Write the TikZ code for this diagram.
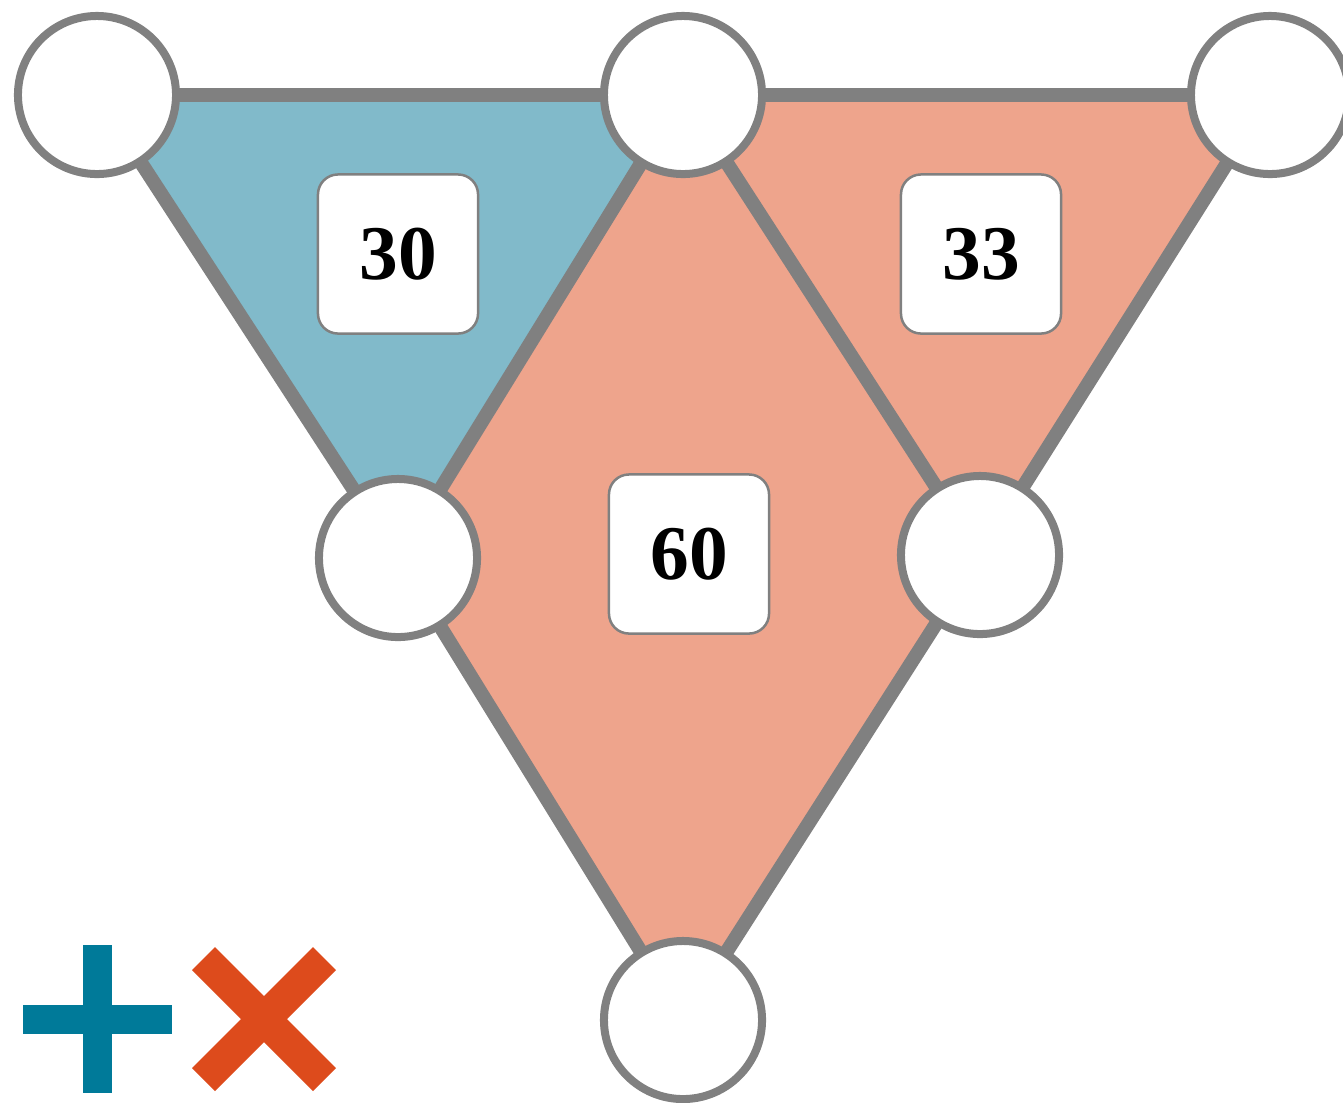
\documentclass[tikz,border=0pt]{standalone}
\usepackage{fontspec}
\setmainfont{Liberation Serif}
\usetikzlibrary{backgrounds}
\definecolor{edgegray}{RGB}{128,128,128}
\definecolor{faceblue}{RGB}{129,186,202}
\definecolor{facesalmon}{RGB}{238,164,140}
\definecolor{plusblue}{RGB}{0,122,153}
\definecolor{timesred}{RGB}{221,75,28}

\begin{document}
\begin{tikzpicture}[x=0.01cm, y=-0.01cm,
		vert/.style={circle, draw=edgegray, fill=white, line width=0.08cm, minimum size=1.58cm, inner sep=0pt},
		facebox/.style={draw=edgegray, fill=white, rounded corners=0.2cm, line width=0.025cm, minimum width=1.6cm, minimum height=1.59cm, inner sep=0pt, font=\bfseries\fontsize{22}{26}\selectfont},
		link/.style={draw=edgegray, line width=0.14cm}]
			%%%%% START %%%%%
			
			\useasboundingbox (0, 0) rectangle (1343, 1102);
			
			\node[vert] (v1) at (97, 95) {};
			\node[vert] (v2) at (683, 95) {};
			\node[vert] (v3) at (1270, 95) {};
			\node[vert] (v4) at (398, 558) {};
			\node[vert] (v5) at (980, 555) {};
			\node[vert] (v6) at (683, 1020) {};
			
			\begin{pgfonlayer}{background}
			\fill[faceblue] (v1.center) -- (v2.center) -- (v4.center) -- cycle;
			\fill[facesalmon] (v2.center) -- (v3.center) -- (v5.center) -- cycle;
			\fill[facesalmon] (v2.center) -- (v4.center) -- (v6.center) -- (v5.center) -- cycle;
			
			\draw[link] (v1.center) -- (v2.center) -- (v3.center);
			\draw[link] (v1.center) -- (v4.center) -- (v6.center);
			\draw[link] (v2.center) -- (v4.center);
			\draw[link] (v2.center) -- (v5.center) -- (v6.center);
			\draw[link] (v3.center) -- (v5.center);
			\end{pgfonlayer}
			
			\node[facebox] (f1) at (398, 254) {30};
			\node[facebox] (f2) at (981, 254) {33};
			\node[facebox] (f3) at (689, 554) {60};
			
			\draw[line width=0.29cm, color=plusblue] (23, 1019) -- (172, 1019);
			\draw[line width=0.29cm, color=plusblue] (97.5, 945) -- (97.5, 1093);
			
			\draw[line width=0.325cm, color=timesred] (203.5, 958.5) -- (324.5, 1079.5);
			\draw[line width=0.325cm, color=timesred] (324.5, 958.5) -- (203.5, 1079.5);
			
			%%%%% END %%%%%
		\end{tikzpicture}
\end{document}
